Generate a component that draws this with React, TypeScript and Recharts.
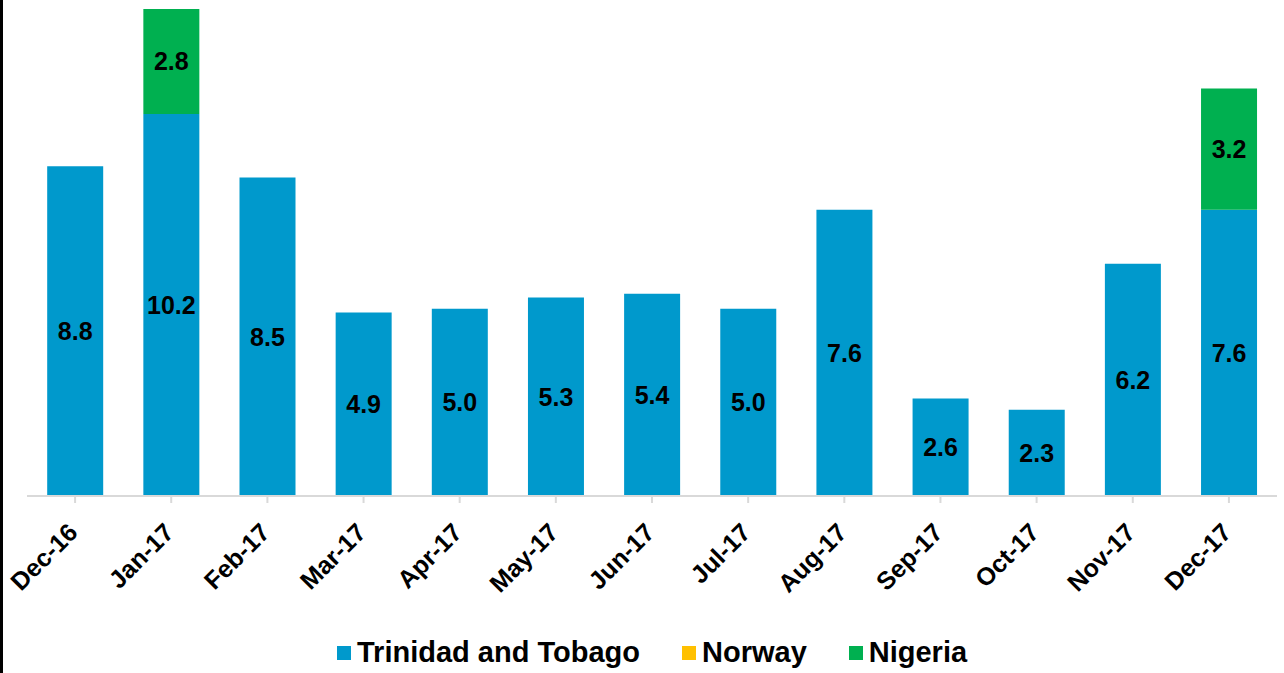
import React from 'react';
import { BarChart, Bar, XAxis, YAxis, LabelList } from 'recharts';

const categories = ['Dec-16', 'Jan-17', 'Feb-17', 'Mar-17', 'Apr-17', 'May-17', 'Jun-17', 'Jul-17', 'Aug-17', 'Sep-17', 'Oct-17', 'Nov-17', 'Dec-17'];
const trinidad = [8.8, 10.2, 8.5, 4.9, 5.0, 5.3, 5.4, 5.0, 7.64, 2.6, 2.3, 6.2, 7.64];
const norway = [0, 0, 0, 0, 0, 0, 0, 0, 0, 0, 0, 0, 0];
const nigeria = [0, 2.8, 0, 0, 0, 0, 0, 0, 0, 0, 0, 0, 3.24];

const seriesNames = ['Trinidad and Tobago', 'Norway', 'Nigeria'];
const seriesColors = ['#0099CC', '#FFC000', '#00B050'];

const data = categories.map((c, i) => ({
  month: c,
  tt: trinidad[i],
  no: norway[i],
  ng: nigeria[i],
}));

const FONT = '"Liberation Sans", Arial, Helvetica, sans-serif';

const fmt = (v: any) => (typeof v === 'number' && v > 0 ? v.toFixed(1) : '');

const Tick = (props: any) => {
  const { x, y, payload } = props;
  const ax = x + 4;
  const ay = y + 29;
  return (
    <text
      x={ax}
      y={ay}
      transform={`rotate(-45 ${ax} ${ay})`}
      textAnchor="end"
      fontFamily={FONT}
      fontWeight="bold"
      fontSize={25}
      fill="#000"
    >
      {payload.value}
    </text>
  );
};

const LegendContent = () => (
  <div
    style={{
      position: 'absolute',
      left: 337,
      top: 636,
      display: 'flex',
      alignItems: 'center',
      fontFamily: FONT,
      fontWeight: 'bold',
      fontSize: 29,
      color: '#000',
      whiteSpace: 'nowrap',
    }}
  >
    {seriesNames.map((n, i) => (
      <div key={n} style={{ display: 'flex', alignItems: 'center', marginRight: i < 2 ? 42 : 0 }}>
        <div style={{ width: 14, height: 14, background: seriesColors[i], marginRight: 6 }} />
        <span>{n}</span>
      </div>
    ))}
  </div>
);

export default function App() {
  return (
    <div style={{ position: 'absolute', left: 0, top: 0, width: 1284, height: 673, background: '#fff', overflow: 'hidden' }}>
      <div style={{ position: 'absolute', left: 0, top: 0, width: 3, height: 673, background: '#000' }} />
      <BarChart
        width={1284}
        height={673}
        data={data}
        margin={{ top: 9, right: 7, left: 27, bottom: 0 }}
        barCategoryGap="21%"
      >
        <XAxis
          dataKey="month"
          interval={0}
          tick={<Tick />}
          height={177}
          axisLine={{ stroke: '#D9D9D9', strokeWidth: 2 }}
          tickLine={{ stroke: '#D9D9D9', strokeWidth: 2 }}
          tickSize={7}
        />
        <YAxis hide domain={[0, 13]} />
        <Bar dataKey="tt" stackId="a" fill={seriesColors[0]} isAnimationActive={false}>
          <LabelList dataKey="tt" position="center" formatter={fmt} fill="#000" fontFamily={FONT} fontWeight="bold" fontSize={25} />
        </Bar>
        <Bar dataKey="no" stackId="a" fill={seriesColors[1]} isAnimationActive={false} />
        <Bar dataKey="ng" stackId="a" fill={seriesColors[2]} isAnimationActive={false}>
          <LabelList dataKey="ng" position="center" formatter={fmt} fill="#000" fontFamily={FONT} fontWeight="bold" fontSize={25} />
        </Bar>
      </BarChart>
      <LegendContent />
    </div>
  );
}
